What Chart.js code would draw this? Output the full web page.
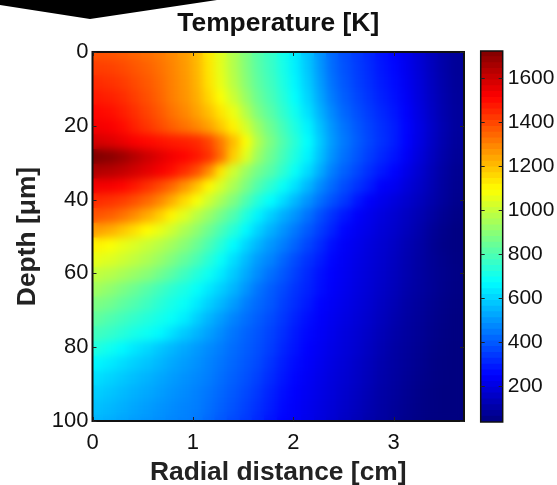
<!DOCTYPE html>
<html><head><meta charset="utf-8">
<style>html,body{margin:0;padding:0;background:#fff;overflow:hidden}
#wrap{position:relative;width:557px;height:485px}
canvas{position:absolute;top:0}
svg{position:absolute;left:0;top:0}</style>
<script src="https://cdn.jsdelivr.net/npm/chart.js@4"></script></head>
<body><div id="wrap">
<canvas id="main" width="557" height="485" style="left:0"></canvas>
<canvas id="bar" width="87" height="485" style="left:470px"></canvas>
<svg width="230" height="24"><polygon points="0,0 0,5 90,19 217,0" fill="#000"/></svg>
</div>
<script>
const chartTitle = "Temperature [K]";
const xTitle = "Radial distance [cm]";
const yTitle = "Depth [\u03bcm]";
const xTicks = [0,1,2,3];
const yTicks = [0,20,40,60,80,100];
const colorbarTicks = [200,400,600,800,1000,1200,1400,1600];
const tempMin = 35, tempMax = 1722;
const colorbarLevels = [48,75,101,127,154,180,206,233,259,285,312,338,365,391,417,444,470,496,523,549,575,602,628,655,681,707,734,760,786,813,839,866,892,918,945,971,997,1024,1050,1076,1103,1129,1156,1182,1208,1235,1261,1287,1314,1340,1366,1393,1419,1446,1472,1498,1525,1551,1577,1604,1630,1656,1683,1709];
const radii = [0.06,0.18,0.31,0.43,0.55,0.68,0.80,0.92,1.05,1.17,1.29,1.41,1.54,1.66,1.78,1.91,2.03,2.15,2.28,2.40,2.52,2.65,2.77,2.89,3.02,3.14,3.26,3.39,3.51,3.63];
const depths = [0,4,8,12,16,20,24,28,32,36,40,44,48,52,56,60,64,68,72,76,80,84,88,92,96,100];
const temperature = [
[1375,1370,1360,1345,1330,1310,1285,1255,1205,1125,1040,960,880,810,760,700,640,570,490,420,375,340,310,275,250,215,175,135,100,75],
[1410,1405,1390,1370,1350,1325,1295,1260,1210,1130,1045,965,885,815,765,705,645,575,495,425,380,345,315,280,255,220,180,138,102,76],
[1440,1430,1415,1390,1365,1335,1300,1265,1215,1135,1055,975,895,825,775,715,655,585,505,435,388,350,320,287,262,225,185,142,105,78],
[1470,1460,1440,1410,1380,1345,1305,1270,1225,1155,1085,1005,920,845,790,730,670,600,520,450,400,362,330,297,270,232,190,146,108,80],
[1500,1490,1465,1435,1400,1365,1325,1290,1245,1195,1130,1060,965,875,815,750,690,620,540,470,415,375,342,310,280,242,197,150,110,82],
[1530,1520,1495,1460,1425,1390,1355,1325,1290,1245,1180,1110,1020,925,850,780,715,650,565,490,435,390,355,322,292,250,203,155,113,83],
[1580,1565,1545,1520,1500,1485,1470,1460,1445,1400,1310,1200,1085,960,875,800,735,670,580,500,445,398,360,325,292,248,200,152,110,80],
[1722,1705,1675,1635,1595,1560,1530,1505,1475,1430,1330,1170,1040,925,850,780,715,650,565,485,430,385,345,308,275,232,187,142,102,74],
[1640,1630,1610,1585,1555,1525,1490,1440,1380,1280,1130,1010,925,860,810,745,680,610,530,455,405,360,320,283,250,210,170,128,92,66],
[1530,1525,1505,1475,1435,1390,1340,1270,1190,1100,1025,950,875,800,740,680,620,550,475,420,370,328,290,240,222,187,155,120,85,62],
[1440,1430,1410,1380,1340,1290,1225,1150,1080,1010,945,880,800,725,670,610,550,490,430,380,335,280,240,215,190,165,138,108,80,58],
[1370,1355,1325,1280,1230,1170,1105,1040,975,920,860,800,720,650,590,535,490,435,375,325,280,240,215,192,168,145,120,92,66,48],
[1250,1225,1185,1140,1095,1055,1010,955,905,850,790,730,660,595,540,490,445,395,345,300,252,225,205,180,160,135,108,78,55,40],
[1110,1085,1055,1030,1000,970,935,895,845,790,730,665,600,545,495,455,410,360,315,268,235,212,190,170,148,122,98,70,50,40],
[1050,1035,1010,985,955,920,880,835,790,735,680,615,555,500,465,415,370,328,290,252,228,205,185,165,142,117,93,72,55,43],
[985,970,945,920,895,855,815,770,725,685,635,580,525,475,430,390,350,310,270,245,222,200,180,160,137,113,92,73,58,46],
[930,905,875,845,810,775,740,710,675,630,590,545,490,440,400,365,330,300,265,238,217,195,175,153,130,107,88,72,56,44],
[875,855,825,800,770,735,705,680,635,590,550,505,455,420,390,350,318,285,250,230,210,188,168,145,122,98,82,66,50,40],
[825,800,775,750,725,700,678,640,590,545,505,465,430,400,370,335,300,268,240,220,200,180,160,137,112,92,77,60,47,38],
[775,755,730,705,685,660,620,580,545,510,475,440,410,385,355,320,285,255,232,212,192,172,150,127,104,87,72,55,44,37],
[718,690,660,630,605,575,550,525,500,475,452,425,400,375,345,305,275,246,225,205,185,165,142,118,96,81,66,51,41,36],
[655,635,612,590,570,548,525,505,485,463,440,415,390,365,330,292,262,238,217,197,178,155,133,110,92,77,62,48,39,35],
[615,597,578,560,542,522,505,488,470,452,428,403,378,350,315,280,252,230,210,190,172,150,128,106,88,73,58,45,37,35],
[587,572,555,538,523,507,490,475,460,440,417,392,365,335,300,268,244,224,203,184,164,142,120,99,83,68,53,42,36,35],
[563,550,535,520,505,490,478,465,452,430,405,380,352,322,290,258,238,218,197,178,157,135,113,94,78,63,49,40,35,35],
[543,532,518,505,492,480,468,457,443,418,392,367,340,310,278,250,232,212,190,170,148,127,105,88,72,57,46,38,35,35]
];
function jet(t){
  const v=Math.min(1,Math.max(0,(t-tempMin)/(tempMax-tempMin)));
  const c=x=>Math.round(255*Math.min(1,Math.max(0,1.5-Math.abs(4*v-x))));
  return `rgb(${c(3)},${c(2)},${c(1)})`;
}
const frame = {
  id:'frame',
  afterDatasetsDraw(chart,args,opts){
    const {ctx,chartArea:a,scales}=chart;
    if(opts.blur){
      ctx.save();
      ctx.beginPath();ctx.rect(a.left,a.top,a.right-a.left,a.bottom-a.top);ctx.clip();
      ctx.filter=`blur(${opts.blur}px)`;
      ctx.drawImage(chart.canvas,a.left,a.top,a.right-a.left,a.bottom-a.top,a.left,a.top,a.right-a.left,a.bottom-a.top);
      ctx.restore();
    }
    ctx.save();
    ctx.strokeStyle=opts.color;ctx.lineWidth=opts.lw;
    ctx.strokeRect(a.left,a.top,a.right-a.left,a.bottom-a.top);
    ctx.lineWidth=1;ctx.strokeStyle='#222';
    ctx.beginPath();
    const L=4;
    if(opts.xt){scales.x.ticks.forEach(t=>{const p=Math.round(scales.x.getPixelForValue(t.value))+.5;
      ctx.moveTo(p,a.top);ctx.lineTo(p,a.top+L);ctx.moveTo(p,a.bottom);ctx.lineTo(p,a.bottom-L);});}
    scales.y.ticks.forEach(t=>{const p=Math.round(scales.y.getPixelForValue(t.value))+.5;
      ctx.moveTo(a.left,p);ctx.lineTo(a.left+L,p);ctx.moveTo(a.right,p);ctx.lineTo(a.right-L,p);});
    ctx.stroke();ctx.restore();
  }
};
const tickFont={family:'"Liberation Sans",Arial,sans-serif',size:21};
const mainTickFont={family:'"Liberation Sans",Arial,sans-serif',size:22};
const titleFont={family:'"Liberation Sans",Arial,sans-serif',size:26.4,weight:'bold'};
const plain=v=>String(v);
const datasets=depths.map((d,i)=>({
  label:'Depth '+d,
  grouped:false,barThickness:14,borderWidth:0,
  data:radii.map(r=>({x:r,y:[d-2.2,d+2.2]})),
  backgroundColor:temperature[i].map(jet)
}));
new Chart(document.getElementById('main'),{
  type:'bar',
  data:{datasets},
  options:{
    responsive:false,animation:false,
    layout:{padding:{left:0,right:93,top:0,bottom:0}},
    plugins:{legend:{display:false},tooltip:{enabled:false},
      title:{display:true,fullSize:false,text:chartTitle,font:titleFont,color:'#111',padding:{top:8,bottom:12.3}},
      frame:{color:'#111',lw:2,blur:4,xt:true}},
    scales:{
      x:{type:'linear',min:0,max:3.7,offset:false,
        afterBuildTicks(s){s.ticks=xTicks.map(v=>({value:v}));},
        grid:{display:false,drawTicks:false},border:{display:false},
        ticks:{font:mainTickFont,color:'#111',padding:9,maxRotation:0,autoSkip:false,callback:plain},
        title:{display:true,text:xTitle,font:titleFont,color:'#222',padding:{top:3,bottom:-3.5}},
        afterFit(s){s.height=64;}},
      y:{type:'linear',reverse:true,min:0,max:100,
        afterBuildTicks(s){s.ticks=yTicks.map(v=>({value:v}));},
        grid:{display:false,drawTicks:false},border:{display:false},
        ticks:{font:mainTickFont,color:'#111',padding:4,autoSkip:false,callback:plain},
        title:{display:true,text:yTitle,font:titleFont,color:'#222',padding:{top:12,bottom:0}},
        afterFit(s){s.width=92.5;}}
    }
  },
  plugins:[frame]
});
new Chart(document.getElementById('bar'),{
  type:'bar',
  data:{labels:['T'],datasets:colorbarLevels.map(v=>({
    grouped:false,barPercentage:1,categoryPercentage:1,borderWidth:0,
    data:[[v-13.6,v+13.6]],backgroundColor:jet(v)}))},
  options:{
    responsive:false,animation:false,
    layout:{padding:{left:10.7,right:0,top:51,bottom:63}},
    plugins:{legend:{display:false},tooltip:{enabled:false},frame:{color:'#111',lw:1.5,blur:0,xt:false}},
    scales:{
      x:{display:false},
      y:{type:'linear',position:'right',min:tempMin,max:tempMax,
        afterBuildTicks(s){s.ticks=colorbarTicks.map(v=>({value:v}));},
        grid:{display:false,drawTicks:false},border:{display:false},
        ticks:{font:tickFont,color:'#111',padding:5,autoSkip:false,callback:plain},
        afterFit(s){s.width=54.3;}}
    }
  },
  plugins:[frame]
});
</script></body></html>
